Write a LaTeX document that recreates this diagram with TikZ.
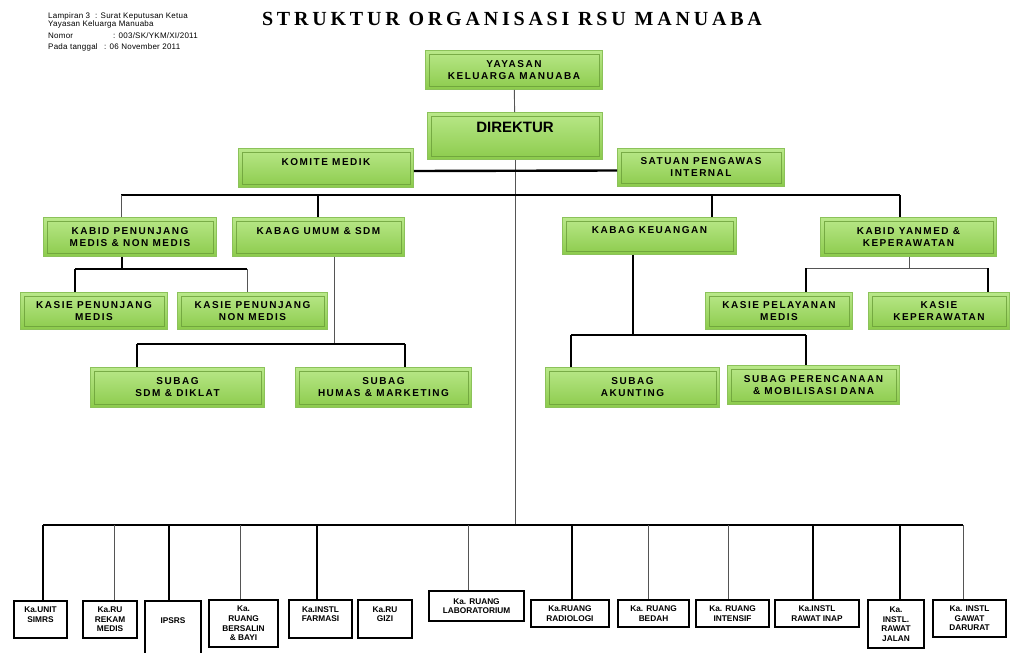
\documentclass[tikz,border=0pt]{standalone}
\usepackage{fontspec}
\setmainfont{Liberation Sans}
\newfontfamily\spacedsans{Liberation Sans}[LetterSpace=15]
\newfontfamily\headsans{Liberation Sans}[LetterSpace=3]
\newfontfamily\titleserif{Liberation Serif}[LetterSpace=19]
\usetikzlibrary{positioning}
\definecolor{gtop}{HTML}{B9E889}
\definecolor{gbot}{HTML}{8CCB4C}
\definecolor{gline}{HTML}{8CC25A}
\definecolor{gbevel}{HTML}{6A9E38}
\definecolor{linegray}{HTML}{555555}

\begin{document}
\begin{tikzpicture}[x=1pt, y=-1pt,
  gbox/.style={rectangle, draw=gline, line width=0.8pt, top color=gtop, bottom color=gbot,
    align=center, inner sep=1pt, font=\spacedsans\bfseries\fontsize{10}{12}\selectfont,
    path picture={\draw[gbevel, line width=1pt, opacity=0.8]
      ([xshift=3.5pt,yshift=-3.5pt]path picture bounding box.north west) rectangle
      ([xshift=-3.5pt,yshift=3.5pt]path picture bounding box.south east);}},
  wbox/.style={rectangle, draw=black, line width=2.2pt, fill=white, align=center,
    inner sep=1pt, font=\bfseries\fontsize{8.3}{9.6}\selectfont},
  hdr/.style={anchor=base west, inner sep=0pt, font=\headsans\fontsize{8}{9}\selectfont},
  thk/.style={line width=2.4pt},
  thn/.style={draw=linegray, line width=0.9pt},
  mid/.style={line width=1.4pt}]

\useasboundingbox (0,0) rectangle (1010,653);

% header
\node[hdr] (lamp) at (48,18) {Lampiran 3};
\node[hdr] (lampv) at (95,18) {: Surat Keputusan Ketua};
\node[hdr] (yks) at (48,26) {Yayasan Keluarga Manuaba};
\node[hdr] (nom) at (48,38) {Nomor};
\node[hdr] (nomv) at (113,38) {: 003/SK/YKM/XI/2011};
\node[hdr] (tgl) at (48,49) {Pada tanggal};
\node[hdr] (tglv) at (104,49) {: 06 November 2011};
\node[font=\titleserif\bfseries\fontsize{20}{23}\selectfont] (title) at (512,19) {STRUKTUR ORGANISASI RSU MANUABA};

% top
\node[gbox, minimum width=177pt, minimum height=39pt] (yayasan) at (514,70) {YAYASAN\\KELUARGA MANUABA};
\node[gbox, minimum width=175pt, minimum height=47pt, font=\bfseries\fontsize{15}{17}\selectfont] (direktur) at (515,136) {DIREKTUR\\ \mbox{}};
\node[gbox, minimum width=175pt, minimum height=39pt] (komite) at (326,168) {KOMITE MEDIK\\ \mbox{}};
\node[gbox, minimum width=167pt, minimum height=38pt] (satuan) at (701,167.5) {SATUAN PENGAWAS\\INTERNAL};

% kabid / kabag
\node[gbox, minimum width=173pt, minimum height=39pt] (kabidpen) at (130,237) {KABID PENUNJANG\\MEDIS \& NON MEDIS};
\node[gbox, minimum width=172pt, minimum height=39pt] (kabagumum) at (318.5,237) {KABAG UMUM \& SDM\\ \mbox{}};
\node[gbox, minimum width=174pt, minimum height=37pt] (kabagkeu) at (649.5,236) {KABAG KEUANGAN\\ \mbox{}};
\node[gbox, minimum width=176pt, minimum height=39pt] (kabidyan) at (908.5,237) {KABID YANMED \&\\KEPERAWATAN};

% kasie
\node[gbox, minimum width=147pt, minimum height=37pt] (kasiepm) at (94,311) {KASIE PENUNJANG\\MEDIS};
\node[gbox, minimum width=150pt, minimum height=37pt] (kasiepnm) at (252.5,311) {KASIE PENUNJANG\\NON MEDIS};
\node[gbox, minimum width=147pt, minimum height=37pt] (kasiepel) at (779,311) {KASIE PELAYANAN\\MEDIS};
\node[gbox, minimum width=141pt, minimum height=37pt] (kasiekep) at (939,311) {KASIE\\KEPERAWATAN};

% subag
\node[gbox, minimum width=174pt, minimum height=40pt] (subagsdm) at (177.5,387.5) {SUBAG\\SDM \& DIKLAT};
\node[gbox, minimum width=176pt, minimum height=40pt] (subaghumas) at (383.5,387.5) {SUBAG\\HUMAS \& MARKETING};
\node[gbox, minimum width=174pt, minimum height=40pt] (subagakun) at (632.5,387.5) {SUBAG\\AKUNTING};
\node[gbox, minimum width=172pt, minimum height=39pt] (subagren) at (813.5,385) {SUBAG PERENCANAAN\\\& MOBILISASI DANA};

% instalasi / ruang
\node[wbox, minimum width=53pt, minimum height=37pt] (simrs) at (40.5,619.5) {Ka.UNIT\\SIMRS\\ \mbox{}};
\node[wbox, minimum width=54pt, minimum height=37pt] (rekam) at (110,619.5) {Ka.RU\\REKAM\\MEDIS};
\node[wbox, minimum width=56pt, anchor=north, text height=21pt, text depth=40pt] (ipsrs) at (173,600) {IPSRS};
\node[wbox, minimum width=69pt, minimum height=47pt] (bersalin) at (243.5,623.5) {Ka.\\RUANG\\BERSALIN\\\& BAYI};
\node[wbox, minimum width=63pt, minimum height=38pt] (farmasi) at (320.5,619) {Ka.INSTL\\FARMASI\\ \mbox{}};
\node[wbox, minimum width=54pt, minimum height=38pt] (gizi) at (385,619) {Ka.RU\\GIZI\\ \mbox{}};
\node[wbox, minimum width=95pt, minimum height=30pt] (lab) at (476.5,606) {Ka. RUANG\\LABORATORIUM};
\node[wbox, minimum width=78pt, minimum height=27pt] (radiologi) at (570,613.5) {Ka.RUANG\\RADIOLOGI};
\node[wbox, minimum width=71pt, minimum height=27pt] (bedah) at (653.5,613.5) {Ka. RUANG\\BEDAH};
\node[wbox, minimum width=73pt, minimum height=27pt] (intensif) at (732.5,613.5) {Ka. RUANG\\INTENSIF};
\node[wbox, minimum width=84pt, minimum height=27pt] (rawatinap) at (817,613.5) {Ka.INSTL\\RAWAT INAP};
\node[wbox, minimum width=56pt, minimum height=48pt] (rawatjalan) at (896,624) {Ka.\\INSTL.\\RAWAT\\JALAN};
\node[wbox, minimum width=73pt, minimum height=37pt] (gawat) at (969.5,618.5) {Ka. INSTL\\GAWAT\\DARURAT};

% garis utama
\coordinate (busBL) at (43,525);
\coordinate (busBR) at (963,525);
\coordinate (busBM) at (515,525);
\draw[thn] (yayasan) -- (direktur);
\draw[thn] (direktur) -- (busBM);
\draw[thk] ([yshift=-3pt]komite.east) -- ([yshift=-3pt]satuan.west);

% bus kabid / kabag
\coordinate (busAL) at (121,195);
\coordinate (busAR) at (900,195);
\draw[thk] (busAL) -- (busAR);
\foreach \n/\x/\s in {kabidpen/121/thn, kabagumum/318/thk, kabagkeu/712/thk, kabidyan/900/thk} {
  \coordinate (d) at (\x,195);
  \draw[\s] (d) -- (\n.north -| d);
}

% penunjang
\coordinate (busPL) at (75,269);
\coordinate (busPR) at (247,269);
\coordinate (kpen) at (122,269);
\draw[thk] (kabidpen.south -| kpen) -- (kpen);
\draw[mid] (busPL) -- (busPR);
\draw[thk] (busPL) -- (kasiepm.north -| busPL);
\draw[thn] (busPR) -- (kasiepnm.north -| busPR);

% umum & sdm
\coordinate (busUL) at (137,344);
\coordinate (busUR) at (405,344);
\coordinate (kumum) at (334,344);
\draw[thn] (kabagumum.south -| kumum) -- (kumum);
\draw[mid] (busUL) -- (busUR);
\draw[thk] (busUL) -- (subagsdm.north -| busUL);
\draw[thk] (busUR) -- (subaghumas.north -| busUR);

% keuangan
\coordinate (busKL) at (571,335);
\coordinate (busKR) at (806,335);
\coordinate (kkeu) at (633,335);
\draw[thk] (kabagkeu.south -| kkeu) -- (kkeu);
\draw[thk] (busKL) -- (busKR);
\draw[thk] (busKL) -- (subagakun.north -| busKL);
\draw[thk] (busKR) -- (subagren.north -| busKR);

% yanmed
\coordinate (busYL) at (806,268);
\coordinate (busYR) at (988,268);
\coordinate (kyan) at (909,268);
\draw[thn] (kabidyan.south -| kyan) -- (kyan);
\draw[thn] (busYL) -- (busYR);
\draw[thk] (busYL) -- (kasiepel.north -| busYL);
\draw[thk] (busYR) -- (kasiekep.north -| busYR);

% bus bawah
\draw[line width=2pt] (busBL) -- (busBR);
\foreach \n/\x/\s in {simrs/43/thk, rekam/114/thn, ipsrs/169/thk, bersalin/240/thn,
  farmasi/317/thk, lab/468/thn, radiologi/572/thk, bedah/648/thn, intensif/728/thn,
  rawatinap/813/thk, rawatjalan/900/thk, gawat/963/thn} {
  \coordinate (d) at (\x,525);
  \draw[\s] (d) -- (\n.north -| d);
}
\end{tikzpicture}
\end{document}
